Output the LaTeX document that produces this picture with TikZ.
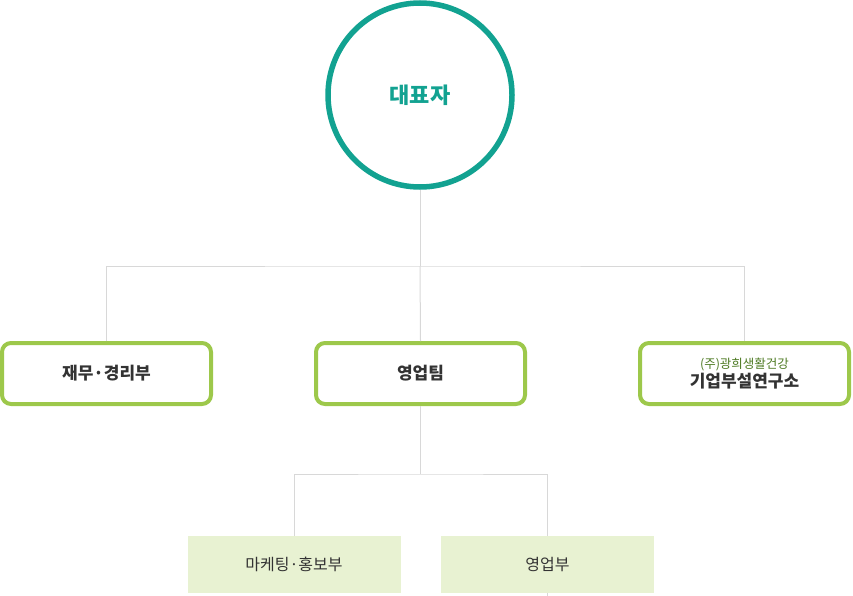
\documentclass[tikz,border=0pt]{standalone}
\usepackage{fontspec}
\setmainfont{Noto Sans CJK KR}
\usetikzlibrary{positioning}
\definecolor{ceoteal}{HTML}{12A291}
\definecolor{teamgreen}{HTML}{9DC84B}
\definecolor{partfill}{HTML}{E8F2D2}
\definecolor{linegray}{HTML}{D8D8D8}
\definecolor{textdark}{HTML}{333333}
\definecolor{subgreen}{HTML}{4D7A22}
\begin{document}
\begin{tikzpicture}[x=1pt,y=-1pt,
  ceo/.style={circle,draw=ceoteal,line width=5.5pt,inner sep=0pt,minimum size=184pt,text=ceoteal,font=\fontsize{22}{26}\selectfont\bfseries},
  team/.style={draw=teamgreen,line width=4pt,rounded corners=9pt,fill=white,minimum width=209pt,minimum height=61pt,inner sep=0pt,text=textdark,font=\fontsize{17}{20}\selectfont\bfseries,align=center},
  part/.style={fill=partfill,minimum width=213pt,minimum height=57pt,inner sep=0pt,text=textdark,font=\fontsize{16}{19}\selectfont},
  link/.style={draw=linegray,line width=1pt}]
\useasboundingbox (0,0) rectangle (853,596);
\coordinate (top) at (420,266);
\coordinate (mid) at (420.5,474);
\coordinate (low) at (547.5,596);
\node [ceo] (boss) at (420,95) {대표자};
\node [team] (fin) at (106.5,373.5) {재무·경리부};
\node [team] (sales) at (420.5,373.5) {영업팀};
\node [team,text depth=2pt] (lab) at (744.5,373.5) {{\fontsize{12.5}{15}\selectfont\mdseries\color{subgreen}(주)광희생활건강}\\[-1pt]기업부설연구소};
\node [part] (mkt) at (294,564.5) {마케팅·홍보부};
\node [part] (biz) at (547.5,564.5) {영업부};
\draw [link] (boss) -- (top);
\draw [link] (fin.north) |- (top) -| (lab.north);
\draw [link] (top) -- (sales.north);
\draw [link] (sales) -- (mid);
\draw [link] (mkt.north) |- (mid) -| (biz.north);
\draw [link] (biz.south) -- (low);
\end{tikzpicture}
\end{document}
